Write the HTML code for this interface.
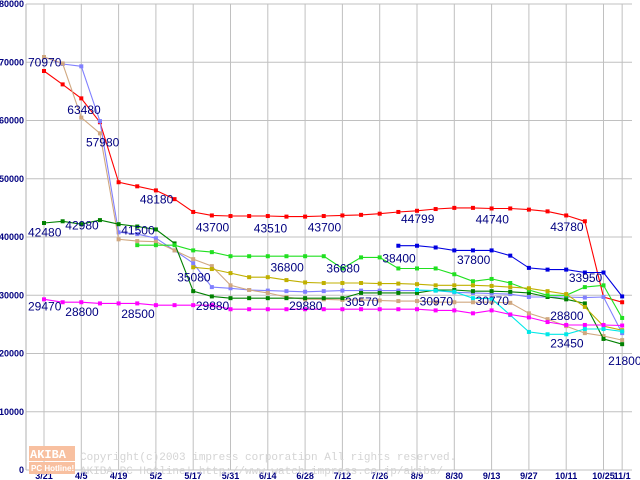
<!DOCTYPE html>
<html><head><meta charset="utf-8"><style>
html,body{margin:0;padding:0;background:#fff;}
svg{display:block;}
</style></head><body>
<svg id="chart" width="640" height="480" xmlns="http://www.w3.org/2000/svg">
<g id="grid"></g>
<g id="axes"></g>
<g>
  <rect x="29" y="446" width="46" height="15" fill="#f8c0a0"/>
  <text x="30" y="458" font-family="Liberation Mono, monospace" font-size="12" font-weight="bold" fill="#fff">AKIBA</text>
  <rect x="29" y="462" width="46" height="12" fill="#f8c0a0"/>
  <text x="31" y="471" font-family="Liberation Sans, sans-serif" font-size="8" font-weight="bold" fill="#fff">PC Hotline!</text>
  <text x="80" y="460" font-family="Liberation Mono, monospace" font-size="11" fill="#d4d4d4">Copyright(c)2003 impress corporation All rights reserved.</text>
  <text x="80" y="474" font-family="Liberation Mono, monospace" font-size="11" fill="#d4d4d4">AKIBA PC Hotline!  http://www.watch.impress.co.jp/akiba/</text>
</g>
<g id="series"></g>
<g id="labels"></g>
</svg>
<script>
const categories = ["3/21","","4/5","","4/19","","5/2","","5/17","","5/31","","6/14","","6/28","","7/12","","7/26","","8/9","","8/30","","9/13","","9/27","","10/11","","10/25","11/1"];
const yTicks = [0,10000,20000,30000,40000,50000,60000,70000,80000];
const sRed = [68500,66200,63800,59700,49400,48700,48000,46500,44300,43700,43600,43600,43600,43500,43500,43600,43700,43800,44000,44300,44500,44800,45000,45000,44900,44900,44700,44400,43700,42700,29700,28800];
const sBlue = [null,null,null,null,null,null,null,null,null,null,null,null,null,null,null,null,null,null,null,38500,38500,38200,37700,37700,37700,36800,34700,34400,34400,33900,33900,29800];
const sPeri = [70900,69700,69300,59900,40800,40500,39800,37700,35500,31400,31200,30900,30800,30700,30600,30700,30800,30800,30800,30800,30800,30800,30500,30400,30300,30200,29700,29700,29700,29600,29700,23500];
const sTan = [70900,69800,60500,57800,39600,39300,39200,37700,36200,35000,31700,30900,30400,29700,29300,29300,29200,29200,29100,29000,29000,28800,28800,28800,28800,28700,26900,25900,24700,23500,23000,22300];
const sDkGreen = [42400,42700,42200,42900,42200,41800,41300,38900,30700,29800,29500,29500,29500,29500,29500,29500,29500,30400,30400,30400,30400,30900,30900,30700,30700,30600,30400,29700,29300,28600,22500,21600];
const sLime = [null,null,null,null,null,38600,38600,38600,37700,37400,36700,36700,36700,36700,36700,36700,34600,36500,36500,34600,34600,34600,33600,32400,32800,32100,30900,30000,30000,31400,31700,26100];
const sOlive = [null,null,null,null,null,null,null,null,34800,34500,33800,33100,33100,32600,32200,32100,32100,32100,32000,32000,31900,31700,31700,31700,31600,31400,31200,30700,30200,28000,24700,24000];
const sCyan = [null,null,null,null,null,null,null,null,null,null,null,null,null,null,null,null,null,null,null,null,30900,30800,30600,29500,29400,26600,23700,23300,23300,24200,24200,23800];
const sMagenta = [29300,28800,28800,28600,28600,28600,28300,28300,28300,28300,27600,27600,27600,27600,27600,27600,27600,27600,27600,27600,27600,27400,27400,26900,27400,26700,26200,25400,24900,24900,24900,24800];
const seriesList = [
  {name:"series-red",data:sRed,color:"#ff0000"},
  {name:"series-blue",data:sBlue,color:"#0000e0"},
  {name:"series-periwinkle",data:sPeri,color:"#8080ff"},
  {name:"series-tan",data:sTan,color:"#d0a880"},
  {name:"series-dark-green",data:sDkGreen,color:"#008000"},
  {name:"series-lime",data:sLime,color:"#20e020"},
  {name:"series-olive",data:sOlive,color:"#c0b000"},
  {name:"series-cyan",data:sCyan,color:"#00e8e8"},
  {name:"series-magenta",data:sMagenta,color:"#ff00ff"}
];
const valueLabels = [
  ["70970",0,70970,-16,10],["63480",2,63480,-14,14],["57980",3,57980,-14,14],["48180",6,48180,-16,14],
  ["43700",9,43700,-16,16],["43510",12,43510,-14,16],["43700",15,43700,-16,16],["44799",20,44799,-16,14],
  ["44740",24,44740,-16,14],["43780",28,43780,-16,16],["42480",0,42480,-16,14],["42980",2,42980,-16,10],
  ["41500",5,41500,-16,6],["38400",19,38400,-16,16],["37800",23,37800,-16,14],["36800",13,36800,-16,16],
  ["36680",16,36680,-16,16],["35080",8,35080,-16,16],["33950",29,33950,-16,10],["30570",17,30570,-16,14],
  ["30970",21,30970,-16,16],["30770",24,30770,-16,14],["28800",28,28800,-16,18],["29880",9,29880,-16,14],
  ["29880",14,29880,-16,14],["29470",0,29470,-16,12],["28800",2,28800,-16,14],["28500",5,28500,-16,14],
  ["23450",28,23450,-16,14],["21800",31,21800,-14,22]
];
const NS="http://www.w3.org/2000/svg";
const X0=44, DX=18.65, Y0=470, YSCALE=58.25/10000;
function xPos(i){return X0+i*DX;}
function yPos(v){return Y0-v*YSCALE;}
function mk(tag,attrs,parent){const e=document.createElementNS(NS,tag);for(const k in attrs)e.setAttribute(k,attrs[k]);parent.appendChild(e);return e;}
const grid=document.getElementById('grid'), axes=document.getElementById('axes'), ser=document.getElementById('series'), lab=document.getElementById('labels');
yTicks.forEach(t=>{
  const l=mk('line',{x1:26,x2:632,y1:yPos(t),y2:yPos(t),stroke:'#c0c0c0','stroke-width':1},grid);
  
  
  const tx=mk('text',{x:24,y:yPos(t)+3,'text-anchor':'end','font-family':'Liberation Sans, sans-serif','font-size':9,'font-weight':'bold',fill:'#000080'},axes);
  tx.textContent=String(t);
  
  
});
categories.forEach((c,i)=>{
  if(!c)return;
  const l=mk('line',{x1:xPos(i),x2:xPos(i),y1:4,y2:470,stroke:'#c0c0c0','stroke-width':1},grid);
  
  
  const tx=mk('text',{x:xPos(i),y:479,'text-anchor':'middle','font-family':'Liberation Sans, sans-serif','font-size':9,'font-weight':'bold',fill:'#000080'},axes);
  tx.textContent=c;
  
  
});
const ax=mk('line',{x1:26,x2:26,y1:4,y2:470,stroke:'#b0b0b0','stroke-width':1},axes);


seriesList.forEach(s=>{
  const g=mk('g',{},ser);
  
  
  let d='';let pen=false;
  s.data.forEach((v,i)=>{if(v==null){pen=false;return;}d+=(pen?'L':'M')+xPos(i).toFixed(1)+' '+yPos(v).toFixed(1)+' ';pen=true;});
  const p=mk('path',{d:d,fill:'none',stroke:s.color,'stroke-width':1.1},g);
  
  
  s.data.forEach((v,i)=>{if(v==null)return;
    const r=mk('rect',{x:xPos(i)-2,y:yPos(v)-2,width:4,height:4,fill:s.color},g);
    
    
  });
});
valueLabels.forEach(v=>{
  const t=mk('text',{x:xPos(v[1])+v[3],y:yPos(v[2])+v[4],'font-family':'Liberation Sans, sans-serif','font-size':12,fill:'#000080'},lab);
  t.textContent=v[0];
  
  
});
</script>
</body></html>
